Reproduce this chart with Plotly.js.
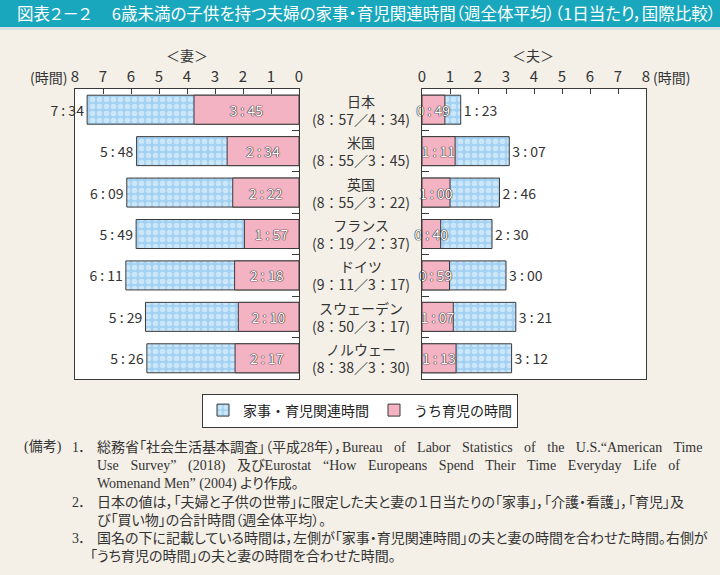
<!DOCTYPE html>
<html>
<head>
<meta charset="utf-8">
<script src="https://cdn.plot.ly/plotly-3.0.1.min.js"></script>
<style>
html,body{margin:0;padding:0;background:#f4f0e8;}
#chart{width:720px;height:575px;}
</style>
</head>
<body>
<div id="chart"></div>
<script>
// ---- data (h:mm per day) ----
const countries = ['日本','米国','英国','フランス','ドイツ','スウェーデン','ノルウェー'];
const wifeTotal = ['7:34','5:48','6:09','5:49','6:11','5:29','5:26'];
const wifeChild = ['3:45','2:34','2:22','1:57','2:18','2:10','2:17'];
const husbTotal = ['1:23','3:07','2:46','2:30','3:00','3:21','3:12'];
const husbChild = ['0:49','1:11','1:00','0:40','0:59','1:07','1:13'];
const coupleTotal = ['8:57','8:55','8:55','8:19','9:11','8:50','8:38'];
const coupleChild = ['4:34','3:45','3:22','2:37','3:17','3:17','3:30'];
const hourTicks = [0,1,2,3,4,5,6,7,8];
const seriesNames = ['家事・育児関連時間','うち育児の時間'];

// ---- helpers ----
const W = 720, H = 575;
const px = v => v / W;
const py = v => (H - v) / H;
const hours = s => { const p = s.split(':').map(Number); return p[0] + p[1] / 60; };
const lab = s => s.replace(':', ' : ');
const styled = (t, extra) => '<span style="font-feature-settings:\'palt\';' + (extra || '') + '">' + t + '</span>';

const BLUE = '#a3d1f3', PINK = '#f4b3c3', EDGE = '#3a3a3a', TXT = '#333';
const checker = {shape: '.', fillmode: 'overlay', bgcolor: BLUE, fgcolor: '#f6fbff', size: 7, solidity: 0.5};
const inFont = {color: '#fff', size: 14, shadow: '0 0 1px #222, 0 0 1px #222, 0 0 1px #222'};
const outFont = {color: TXT, size: 14};

function blueTrace(vals, xa, ya, show) {
  return {
    type: 'bar', orientation: 'h', y: countries, x: vals.map(hours),
    xaxis: xa, yaxis: ya, name: seriesNames[0], legendgroup: 'a', showlegend: show,
    marker: {color: BLUE, pattern: checker, line: {color: EDGE, width: 1}},
    text: vals.map(lab), textposition: 'outside', textangle: 0,
    outsidetextfont: outFont, cliponaxis: false, hoverinfo: 'skip'
  };
}
function pinkTrace(vals, xa, ya, show) {
  return {
    type: 'bar', orientation: 'h', y: countries, x: vals.map(hours),
    xaxis: xa, yaxis: ya, name: seriesNames[1], legendgroup: 'b', showlegend: show,
    marker: {color: PINK, line: {color: EDGE, width: 1}},
    text: vals.map(lab), textposition: 'inside', insidetextanchor: 'middle',
    textangle: 0, constraintext: 'none', insidetextfont: inFont,
    cliponaxis: false, hoverinfo: 'skip'
  };
}

const data = [
  blueTrace(wifeTotal, 'x', 'y', true),
  pinkTrace(wifeChild, 'x', 'y', true),
  blueTrace(husbTotal, 'x2', 'y2', false),
  pinkTrace(husbChild, 'x2', 'y2', false)
];

const yTop = 89, yBot = 379;
const xAxisCommon = {
  side: 'top', tickvals: hourTicks, ticktext: hourTicks.map(String),
  ticks: 'inside', ticklen: 5, tickcolor: EDGE, tickwidth: 1,
  showline: true, linecolor: EDGE, linewidth: 1, mirror: true,
  showgrid: false, zeroline: false, fixedrange: true,
  tickfont: {size: 15, color: TXT}
};
const yAxisCommon = {
  type: 'category', categoryorder: 'array', categoryarray: countries,
  range: [6.5, -0.5], domain: [py(yBot), py(yTop)],
  ticks: 'inside', tickson: 'boundaries', ticklen: 7, tickcolor: EDGE,
  showticklabels: false, showline: true, linecolor: EDGE, linewidth: 1, mirror: true,
  showgrid: false, zeroline: false, fixedrange: true
};

const annotations = [];
function note(x, y, text, extra) {
  annotations.push({xref: 'paper', yref: 'paper', x: px(x), y: py(y), xanchor: 'left', yanchor: 'middle',
    text: styled(text, extra), showarrow: false,
    font: {family: '"Liberation Serif", "Noto Sans CJK JP", serif', size: 14, color: TXT}});
}
note(22, 447, '(備考)');
note(70, 447, '1．');
note(95, 447, '総務省「社会生活基本調査」（平成28年），Bureau of Labor Statistics of the U.S.“American Time', 'word-spacing:8px');
note(95, 466, 'Use Survey” (2018) 及びEurostat “How Europeans Spend Their Time Everyday Life of', 'word-spacing:8.2px');
note(95, 484, 'Womenand Men” (2004) より作成。');
note(70, 502, '2．');
note(95, 502, '日本の値は，「夫婦と子供の世帯」に限定した夫と妻の１日当たりの「家事」，「介護・看護」，「育児」及');
note(95, 520, 'び「買い物」の合計時間（週全体平均）。');
note(70, 538, '3．');
note(95, 538, '国名の下に記載している時間は，左側が「家事・育児関連時間」の夫と妻の時間を合わせた時間。右側が');
note(88, 556, '「うち育児の時間」の夫と妻の時間を合わせた時間。');

// country labels between panels
countries.forEach((c, i) => {
  annotations.push({xref: 'paper', yref: 'y', x: px(360.5), y: c, xanchor: 'center', yanchor: 'middle',
    text: c + '<br>(' + coupleTotal[i].replace(':', '：') + '／' + coupleChild[i].replace(':', '：') + ')',
    showarrow: false, align: 'center', font: {size: 14, color: TXT}});
});
// panel headings and unit labels
function label(x, y, text, xanchor) {
  annotations.push({xref: 'paper', yref: 'paper', x: px(x), y: py(y), xanchor: xanchor, yanchor: 'middle',
    text: text, showarrow: false, font: {size: 14, color: TXT}});
}
label(187, 55, '＜妻＞', 'center');
label(533, 55, '＜夫＞', 'center');
label(69, 77, '(時間)', 'right');
label(651, 77, '(時間)', 'left');

const layout = {
  width: W, height: H, margin: {l: 0, r: 0, t: 0, b: 0},
  paper_bgcolor: '#f4f0e8', plot_bgcolor: '#ffffff',
  barmode: 'overlay', bargap: 0.3,
  font: {family: '"Noto Sans CJK JP", "Noto Sans", sans-serif', color: TXT, size: 14},
  title: {
    text: styled('図表２－２　 6歳未満の子供を持つ夫婦の家事・育児関連時間（週全体平均）（1日当たり，国際比較）'),
    x: px(17), xanchor: 'left', xref: 'paper', y: py(14), yanchor: 'middle', yref: 'paper',
    font: {color: '#ffffff', size: 16.5}
  },
  showlegend: true,
  legend: {orientation: 'h', x: 0.5, xanchor: 'center', y: py(410.5), yanchor: 'middle',
    bgcolor: '#ffffff', bordercolor: EDGE, borderwidth: 1, traceorder: 'normal',
    font: {size: 14, color: '#222'}},
  xaxis: Object.assign({}, xAxisCommon, {domain: [px(75), px(299)], anchor: 'y', range: [8, 0]}),
  yaxis: Object.assign({}, yAxisCommon, {anchor: 'x', side: 'right'}),
  xaxis2: Object.assign({}, xAxisCommon, {domain: [px(422), px(646)], anchor: 'y2', range: [0, 8]}),
  yaxis2: Object.assign({}, yAxisCommon, {anchor: 'x2', side: 'left'}),
  shapes: [
    {type: 'rect', xref: 'paper', yref: 'paper', x0: 0, x1: 1, y0: py(27), y1: 1, fillcolor: '#19a7bd', line: {width: 0}, layer: 'below'},
    {type: 'rect', xref: 'paper', yref: 'paper', x0: 0, x1: 1, y0: py(30), y1: py(27), fillcolor: '#d3e2e0', line: {width: 0}, layer: 'below'}
  ],
  annotations: annotations
};

Plotly.newPlot('chart', data, layout, {displayModeBar: false, staticPlot: true});
</script>
</body>
</html>
